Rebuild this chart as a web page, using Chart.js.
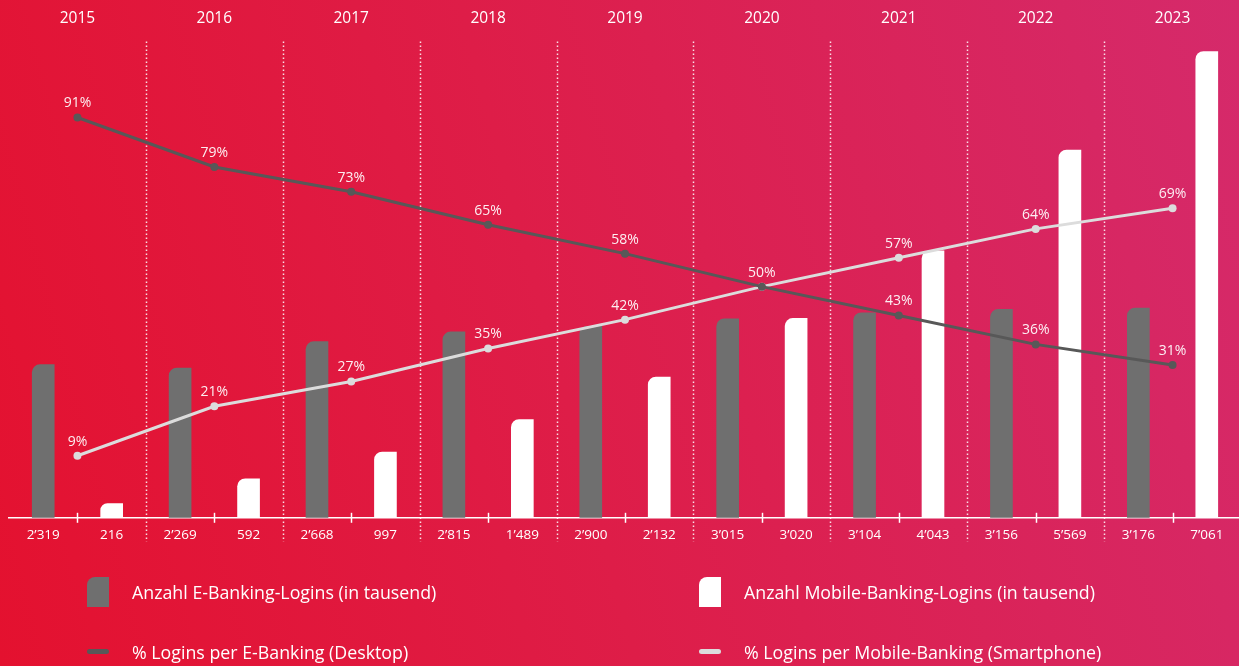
<!DOCTYPE html>
<html>
<head>
<meta charset="utf-8">
<script src="https://cdn.jsdelivr.net/npm/chart.js@4/dist/chart.umd.min.js"></script>
<style>
  html, body { margin: 0; padding: 0; overflow: hidden; }
  body {
    width: 1239px; height: 666px;
    background: linear-gradient(75deg, #e4112f 0%, #de1d48 45%, #d52a6b 100%);
    font-family: "Open Sans", sans-serif;
    position: relative;
  }
  #wrap { position: absolute; left: 0; top: 0; width: 1245px; height: 666px; }
  .lg { position: absolute; color: #fff; font-size: 17.8px; line-height: 22px; }
  .sw { position: absolute; }
</style>
</head>
<body>
<div id="wrap"><canvas id="myChart"></canvas></div>

<div class="sw" style="left:87px;top:577px;width:22px;height:30px;background:#6f6f6f;border-top-left-radius:8px"></div>
<div class="lg" style="left:132px;top:581px">Anzahl E-Banking-Logins (in tausend)</div>
<div class="sw" style="left:699px;top:577px;width:22px;height:30px;background:#fff;border-top-left-radius:8px"></div>
<div class="lg" style="left:744px;top:581px">Anzahl Mobile-Banking-Logins (in tausend)</div>
<div class="sw" style="left:87px;top:649px;width:22px;height:5px;background:#585858;border-radius:3px"></div>
<div class="lg" style="left:132px;top:641px">% Logins per E-Banking (Desktop)</div>
<div class="sw" style="left:699px;top:649px;width:22px;height:5px;background:#dcdcdc;border-radius:3px"></div>
<div class="lg" style="left:744px;top:641px">% Logins per Mobile-Banking (Smartphone)</div>

<script>
const years = ["2015", "2016", "2017", "2018", "2019", "2020", "2021", "2022", "2023"];
const eBankingLogins = [2319, 2269, 2668, 2815, 2900, 3015, 3104, 3156, 3176];
const mobileLogins = [216, 592, 997, 1489, 2132, 3020, 4043, 5569, 7061];
const pctDesktop = [91, 79, 73, 65, 58, 50, 43, 36, 31];
const pctMobile = [9, 21, 27, 35, 42, 50, 57, 64, 69];

function fmt(v) {
  return String(v).replace(/\B(?=(\d{3})+(?!\d))/g, "\u2019");
}

// two slots per year: e-banking, then mobile
const slotLabels = [];
const eData = [];
const mData = [];
years.forEach((y, i) => {
  slotLabels.push(fmt(eBankingLogins[i]), fmt(mobileLogins[i]));
  eData.push(eBankingLogins[i], null);
  mData.push(null, mobileLogins[i]);
});

const extras = {
  id: "extras",
  beforeDatasetsDraw(chart) {
    const ctx = chart.ctx;
    const top = chart.scales.xTop;
    const x = chart.scales.x;
    ctx.save();
    ctx.strokeStyle = "rgba(255,255,255,0.85)";
    ctx.lineWidth = 1.5;
    ctx.setLineDash([1.5, 2.5]);
    for (let k = 1; k < years.length; k++) {
      const px = Math.round((top.getPixelForTick(k - 1) + top.getPixelForTick(k)) / 2) + 0.5;
      ctx.beginPath();
      ctx.moveTo(px, chart.chartArea.top);
      ctx.lineTo(px, x.top + 24);
      ctx.stroke();
    }
    ctx.restore();
  },
  afterDatasetsDraw(chart) {
    const ctx = chart.ctx;
    const top = chart.scales.xTop;
    const x = chart.scales.x;
    ctx.save();
    ctx.strokeStyle = "#fff";
    ctx.lineWidth = 1.5;
    for (let k = 0; k < years.length; k++) {
      const px = Math.round(top.getPixelForTick(k)) + 0.5;
      ctx.beginPath();
      ctx.moveTo(px, x.top - 5);
      ctx.lineTo(px, x.top + 5);
      ctx.stroke();
    }
    ctx.fillStyle = "rgba(255,255,255,0.93)";
    ctx.font = "14px 'Open Sans'";
    ctx.textAlign = "center";
    ctx.textBaseline = "middle";
    chart.data.datasets.forEach((ds, i) => {
      if (ds.type !== "line") return;
      chart.getDatasetMeta(i).data.forEach((pt, j) => {
        // shared value (50%) is labelled only once
        if (i === 1 && pctMobile[j] === pctDesktop[j]) return;
        ctx.fillText(ds.data[j] + "%", pt.x, pt.y - 14);
      });
    });
    ctx.restore();
  }
};

const ctx = document.getElementById("myChart").getContext("2d");
new Chart(ctx, {
  type: "bar",
  data: {
    labels: slotLabels,
    datasets: [
      {
        type: "line",
        label: "% Logins per E-Banking (Desktop)",
        data: pctDesktop,
        xAxisID: "xTop",
        yAxisID: "yPct",
        borderColor: "#585858",
        backgroundColor: "#585858",
        borderWidth: 3,
        pointRadius: 4,
        pointBorderWidth: 0,
        tension: 0,
        order: 1
      },
      {
        type: "line",
        label: "% Logins per Mobile-Banking (Smartphone)",
        data: pctMobile,
        xAxisID: "xTop",
        yAxisID: "yPct",
        borderColor: "#dcdcdc",
        backgroundColor: "#dcdcdc",
        borderWidth: 3,
        pointRadius: 4,
        pointBorderWidth: 0,
        tension: 0,
        order: 1
      },
      {
        label: "Anzahl E-Banking-Logins (in tausend)",
        data: eData,
        backgroundColor: "#6f6f6f",
        borderRadius: { topLeft: 8 },
        borderSkipped: false,
        barThickness: 22,
        grouped: false,
        order: 2
      },
      {
        label: "Anzahl Mobile-Banking-Logins (in tausend)",
        data: mData,
        backgroundColor: "#ffffff",
        borderRadius: { topLeft: 8 },
        borderSkipped: false,
        barThickness: 22,
        grouped: false,
        order: 2
      }
    ]
  },
  options: {
    responsive: true,
    maintainAspectRatio: false,
    animation: false,
    events: [],
    layout: { padding: { left: 9, right: 0, top: -5, bottom: 114 } },
    plugins: { legend: { display: false }, tooltip: { enabled: false } },
    scales: {
      x: {
        type: "category",
        position: "bottom",
        offset: true,
        grid: { display: false, drawTicks: false },
        border: { display: true, color: "#fff", width: 1.5 },
        ticks: {
          color: "#fff",
          font: { family: "'Open Sans'", size: 13.5 },
          padding: 9,
          autoSkip: false,
          maxRotation: 0
        }
      },
      xTop: {
        type: "category",
        position: "top",
        labels: years,
        offset: true,
        grid: { display: false, drawTicks: false },
        border: { display: false },
        ticks: {
          color: "#fff",
          font: { family: "'Open Sans'", size: 15.5 },
          padding: 14,
          autoSkip: false,
          maxRotation: 0
        }
      },
      y: { display: false, min: 0, max: 7212 },
      yPct: { display: false, min: -6.04, max: 109.4 }
    }
  },
  plugins: [extras]
});
</script>
</body>
</html>
